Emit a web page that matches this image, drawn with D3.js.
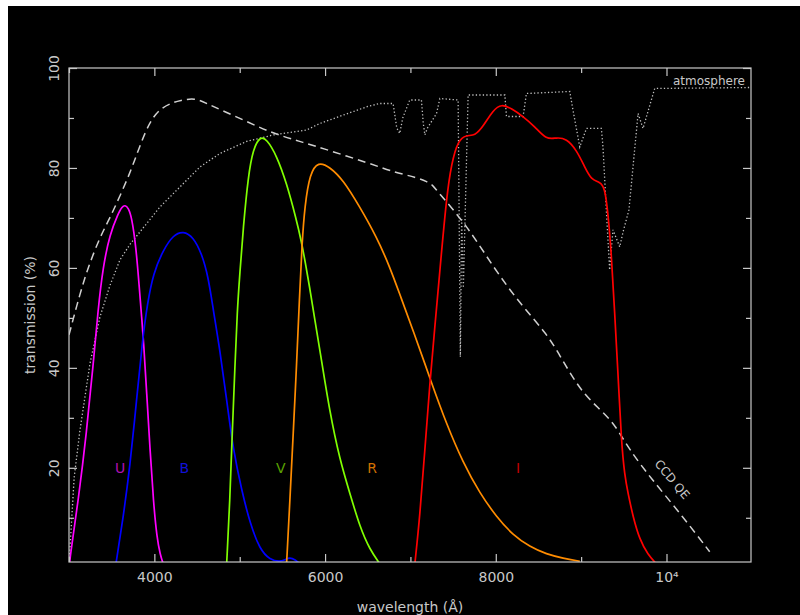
<!DOCTYPE html>
<html>
<head>
<meta charset="utf-8">
<script src="https://cdn.jsdelivr.net/npm/d3@7"></script>
<style>
  html, body { margin: 0; padding: 0; background: #ffffff; }
  svg { display: block; }
  text { font-family: "DejaVu Sans", sans-serif; }
</style>
</head>
<body>
<div id="chart"></div>
<script>
// ---------------- DATA ----------------
// wavelength (Angstrom), transmission (%)
const ccdQE = [[3000,46.6],[3129,54.9],[3226,60.2],[3363,66.2],[3480,70],[3600,74.5],[3714,79],[3800,83],[3900,87.5],[3980,90],[4066,91.8],[4200,93],[4300,93.5],[4475,94],[4600,93],[4768,91.7],[5080,89.3],[5392,86.9],[5705,85.3],[5939,84.1],[6525,80.9],[6800,79.2],[7072,78.1],[7200,77.2],[7260,76.6],[7306,75.5],[7657,68.6],[7969,60.2],[8281,52.9],[8594,46.9],[8750,42.5],[8906,37.9],[9050,34.5],[9200,32],[9350,29.5],[9450,27],[9569,23.6],[9803,18.2],[10193,10.2],[10506,3.2]];

const atmosphere = [[3005,2],[3060,18],[3129,27.6],[3187,34.2],[3246,40.9],[3363,50.2],[3480,56.5],[3597,61.6],[3714,64.7],[3831,67.2],[4066,72.2],[4300,76.2],[4534,80.2],[4768,82.9],[5080,85.3],[5392,86.6],[5783,87.6],[5939,88.9],[6200,90.5],[6500,92.3],[6640,92.9],[6797,92.9],[6840,88],[6875,86.9],[6910,90],[6992,93.6],[7129,93.6],[7150,89],[7169,86.6],[7200,88],[7306,90.9],[7345,93.9],[7559,93.6],[7585,42.2],[7600,70],[7620,56],[7676,94.6],[8106,94.6],[8125,90.3],[8320,90.3],[8359,94.9],[8867,95.3],[8900,92],[8984,84.2],[9062,87.9],[9237,87.9],[9256,84.2],[9300,70],[9334,59.6],[9373,67.6],[9452,64.2],[9491,67.2],[9560,71.6],[9667,90.9],[9725,87.9],[9862,95.9],[10990,96.1]];

const filterU = [[3005,0.5],[3012,2.1],[3109,13.5],[3205,27],[3281,40.2],[3340,51.6],[3398,60.2],[3480,66.8],[3574,70.8],[3620,72.2],[3656,72.6],[3695,72],[3734,70.2],[3785,64.2],[3823,56.2],[3851,50.2],[3875,45],[3910,35],[3948,24],[3990,13],[4030,6],[4070,2.5],[4104,0.8]];
const filterB = [[3550,0.8],[3636,10.2],[3714,20.2],[3792,33.6],[3860,45.5],[3920,53],[3987,58.9],[4104,63.6],[4222,66.6],[4339,67.4],[4456,66.2],[4554,62.9],[4632,58.2],[4690,51.6],[4768,43.6],[4847,33.6],[4924,23.6],[5022,15.6],[5120,8.9],[5237,3.6],[5354,1.6],[5471,1.2],[5530,1.6],[5588,2.1],[5650,1.6],[5705,0.8]];
const filterV = [[4847,0.8],[4885,13.5],[4912,26.9],[4944,40.2],[4971,51.5],[5002,59],[5041,68],[5100,78.5],[5158,83.8],[5237,86.3],[5315,85.8],[5432,82.5],[5549,77],[5666,69.5],[5720,65.5],[5775,60.5],[5830,55],[5880,49.6],[5939,43.6],[6056,31],[6173,21.6],[6290,14.9],[6407,8.2],[6525,3.6],[6642,0.8]];
const filterR = [[5549,0.8],[5588,13.5],[5627,26.9],[5666,40.5],[5700,54],[5730,65],[5763,72.5],[5822,78.9],[5919,81.3],[6056,80.2],[6212,77.6],[6407,72.2],[6603,66.2],[6759,60.2],[6890,54],[7032,47.5],[7247,37],[7422,28.8],[7617,21],[7813,14.9],[8008,10.2],[8203,6.5],[8398,4.2],[8594,2.7],[8789,1.9],[8984,1.3]];
const filterI = [[7052,0.8],[7110,10.2],[7169,23.6],[7227,36.9],[7286,48.2],[7345,59.5],[7423,74.2],[7481,80.9],[7559,85.6],[7657,86.6],[7754,86.4],[7852,88.3],[7969,91.6],[8067,92.8],[8184,91.9],[8320,90.3],[8457,88.3],[8594,85.6],[8711,86.1],[8828,85.9],[8945,83.6],[9042,80.2],[9120,77.6],[9218,77.2],[9276,76.2],[9315,70.9],[9354,62.9],[9393,50.9],[9432,38.9],[9472,25],[9510,18.5],[9549,14.9],[9608,10.2],[9686,5.6],[9783,2.6],[9881,0.8]];

const filterNames = ["U","B","V","R","I"];
const filterColors = ["#ff00ff","#0000ff","#80ff00","#ff8c00","#ff0000"];
const labelColors = ["#b010b0","#1010d8","#5aa000","#d07000","#c00000"];
const labelWave = [3600,4350,5480,6550,8260];
const labelTrans = 20;

const xTicksMajor = [4000,6000,8000,10000];
const xTickLabels = ["4000","6000","8000","10\u2074"];
const xTicksMinor = [3000,5000,7000,9000];
const yTicksMajor = [20,40,60,80,100];
const yTicksMinor = [10,30,50,70,90];

// ---------------- CHART ----------------
const W = 800, H = 615;
const svg = d3.select("#chart").append("svg").attr("width", W).attr("height", H);

svg.append("rect").attr("x", 8).attr("y", 6).attr("width", W - 8).attr("height", H - 6).attr("fill", "#000");

const L = 69, R = 751, T = 68, B = 562;
const x = d3.scaleLinear().domain([3000, 10990]).range([L, R]);
const y = d3.scaleLinear().domain([1.15, 100]).range([B, T]);

const axisColor = "#c8c8c8";

svg.append("defs").append("clipPath").attr("id", "clip")
  .append("rect").attr("x", L).attr("y", T).attr("width", R - L).attr("height", B - T);

const plot = svg.append("g").attr("clip-path", "url(#clip)");

const line = d3.line().x(d => x(d[0])).y(d => y(d[1])).curve(d3.curveBasis);
const lineLin = d3.line().x(d => x(d[0])).y(d => y(d[1]));

plot.append("path").datum(ccdQE).attr("d", line)
  .attr("fill", "none").attr("stroke", "#d0d0d0").attr("stroke-width", 1.5)
  .attr("stroke-dasharray", "8,5");

plot.append("path").datum(atmosphere).attr("d", lineLin)
  .attr("fill", "none").attr("stroke", "#c0c0c0").attr("stroke-width", 1.3)
  .attr("stroke-dasharray", "1.3,2.2");

const filters = [filterU, filterB, filterV, filterR, filterI];
filters.forEach((f, i) => {
  plot.append("path").datum(f).attr("d", line)
    .attr("fill", "none").attr("stroke", filterColors[i]).attr("stroke-width", 1.7);
});

// filter labels
filterNames.forEach((n, i) => {
  svg.append("text").attr("x", x(labelWave[i])).attr("y", y(labelTrans)).attr("dy", "0.36em")
    .attr("text-anchor", "middle").attr("font-size", 14).attr("fill", labelColors[i]).text(n);
});

// frame
svg.append("rect").attr("x", L).attr("y", T).attr("width", R - L).attr("height", B - T)
  .attr("fill", "none").attr("stroke", axisColor).attr("stroke-width", 1.2);

function styleAxis(g) {
  g.select(".domain").remove();
  g.selectAll("line").attr("stroke", axisColor).attr("stroke-width", 1.2);
  g.selectAll("text").attr("fill", axisColor).attr("font-size", 14)
    .attr("font-family", "DejaVu Sans, sans-serif");
}

// bottom
svg.append("g").attr("transform", `translate(0,${B})`)
  .call(d3.axisBottom(x).tickValues(xTicksMajor).tickSize(-8).tickPadding(10)
    .tickFormat((d, i) => xTickLabels[i]))
  .call(styleAxis);
svg.append("g").attr("transform", `translate(0,${B})`)
  .call(d3.axisBottom(x).tickValues(xTicksMinor).tickSize(-5).tickFormat(""))
  .call(styleAxis);
// top
svg.append("g").attr("transform", `translate(0,${T})`)
  .call(d3.axisTop(x).tickValues(xTicksMajor).tickSize(-8).tickFormat(""))
  .call(styleAxis);
svg.append("g").attr("transform", `translate(0,${T})`)
  .call(d3.axisTop(x).tickValues(xTicksMinor).tickSize(-5).tickFormat(""))
  .call(styleAxis);
// left
const gl = svg.append("g").attr("transform", `translate(${L},0)`)
  .call(d3.axisLeft(y).tickValues(yTicksMajor).tickSize(-8).tickFormat(d3.format("d")))
  .call(styleAxis);
gl.selectAll("text")
  .attr("x", 0).attr("dy", 0)
  .attr("text-anchor", "middle")
  .attr("transform", "translate(-10,0) rotate(-90)");
svg.append("g").attr("transform", `translate(${L},0)`)
  .call(d3.axisLeft(y).tickValues(yTicksMinor).tickSize(-5).tickFormat(""))
  .call(styleAxis);
// right
svg.append("g").attr("transform", `translate(${R},0)`)
  .call(d3.axisRight(y).tickValues(yTicksMajor).tickSize(-8).tickFormat(""))
  .call(styleAxis);
svg.append("g").attr("transform", `translate(${R},0)`)
  .call(d3.axisRight(y).tickValues(yTicksMinor).tickSize(-5).tickFormat(""))
  .call(styleAxis);

// axis titles
svg.append("text").attr("transform", `translate(35,${(T + B) / 2}) rotate(-90)`)
  .attr("text-anchor", "middle").attr("font-size", 14).attr("fill", axisColor)
  .text("transmission (%)");
svg.append("text").attr("x", (L + R) / 2).attr("y", 612)
  .attr("text-anchor", "middle").attr("font-size", 14).attr("fill", axisColor)
  .text("wavelength (\u00c5)");

// curve labels
svg.append("text").attr("x", 745).attr("y", 85)
  .attr("text-anchor", "end").attr("font-size", 12).attr("fill", axisColor)
  .text("atmosphere");
svg.append("text").attr("transform", `translate(669,482) rotate(50)`)
  .attr("text-anchor", "middle").attr("font-size", 12).attr("fill", axisColor)
  .text("CCD QE");
</script>
</body>
</html>
